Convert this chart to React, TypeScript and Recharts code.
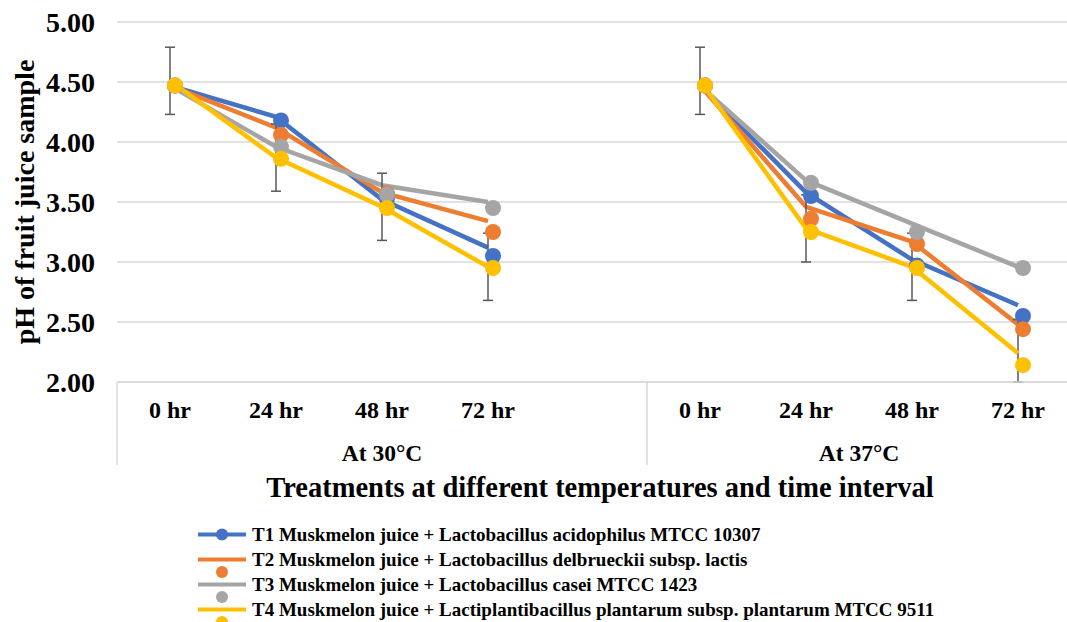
import React from "react";
import { CartesianGrid, ErrorBar, Label, Line, LineChart, XAxis, YAxis } from "recharts";

// slot 4 is the empty gap that closes the 30°C group
const timeLabels = ["0 hr", "24 hr", "48 hr", "72 hr", "", "0 hr", "24 hr", "48 hr", "72 hr"];
const groups = [
  { label: "At 30°C", start: 0, count: 5 },
  { label: "At 37°C", start: 5, count: 4 },
];

// line traces
const t1Line = [4.47, 4.21, 3.52, 3.12, null, 4.47, 3.58, 3.02, 2.64];
const t2Line = [4.47, 4.12, 3.58, 3.34, null, 4.47, 3.46, 3.17, 2.48];
const t3Line = [4.47, 3.96, 3.64, 3.5, null, 4.47, 3.68, 3.32, 2.96];
const t4Line = [4.51, 3.87, 3.46, 2.96, null, 4.51, 3.28, 2.96, 2.24];
// marker values
const t1Dot = [4.47, 4.18, 3.53, 3.05, null, 4.47, 3.55, 2.97, 2.55];
const t2Dot = [4.47, 4.06, 3.57, 3.25, null, 4.47, 3.36, 3.15, 2.44];
const t3Dot = [4.47, 3.96, 3.56, 3.45, null, 4.47, 3.66, 3.25, 2.95];
const t4Dot = [4.47, 3.86, 3.45, 2.95, null, 4.47, 3.25, 2.95, 2.14];
// [below, above]; the last bar stops at the 2.00 axis
const t4Err = [
  [0.28, 0.28], [0.28, 0.28], [0.28, 0.28], [0.28, 0.28], null,
  [0.28, 0.28], [0.28, 0.28], [0.28, 0.28], [0.24, 0.28],
];

const yTicks = [2, 2.5, 3, 3.5, 4, 4.5, 5];

const seriesNames = [
  "T1 Muskmelon juice + Lactobacillus acidophilus MTCC 10307",
  "T2 Muskmelon juice + Lactobacillus delbrueckii subsp. lactis",
  "T3 Muskmelon juice + Lactobacillus casei MTCC 1423",
  "T4 Muskmelon juice + Lactiplantibacillus plantarum subsp. plantarum MTCC 9511",
];
const colors = ["#4472C4", "#ED7D31", "#A5A5A5", "#FFC000"];

const data = timeLabels.map((time, i) => ({
  key: `s${i}`,
  time,
  t1: t1Line[i],
  t2: t2Line[i],
  t3: t3Line[i],
  t4: t4Line[i],
  d1: t1Dot[i],
  d2: t2Dot[i],
  d3: t3Dot[i],
  d4: t4Dot[i],
  err: t4Err[i],
}));

const font = "'Liberation Serif', 'Times New Roman', serif";
const W = 1075;
const H = 622;
const plotLeft = 117;
const plotRight = W - 4;
const plotTop = 22;
const plotBottom = 382;
const band = (plotRight - plotLeft) / timeLabels.length;
const gridColor = "#d9d9d9";

function TimeTick(props: any) {
  const { x, y, index } = props;
  const group = groups.find((g) => g.start === index);
  return (
    <g>
      <text x={x} y={y + 36} textAnchor="middle" fontFamily={font} fontWeight="bold" fontSize={24} fill="#000">
        {timeLabels[index]}
      </text>
      {group && (
        <>
          <line x1={x - band / 2} x2={x - band / 2} y1={y} y2={y + 83} stroke={gridColor} strokeWidth={1.5} />
          <text
            x={x - band / 2 + (group.count * band) / 2}
            y={y + 79}
            textAnchor="middle"
            fontFamily={font}
            fontWeight="bold"
            fontSize={23.5}
            fill="#000"
          >
            {group.label}
          </text>
        </>
      )}
    </g>
  );
}

function markerDot(color: string) {
  return (p: any) => {
    if (p.cy == null || p.value == null) return <g key={p.key ?? p.index} />;
    return <circle key={p.key ?? p.index} cx={p.cx + 5} cy={p.cy} r={8} fill={color} />;
  };
}

function LegendRow({ i }: { i: number }) {
  const c = colors[i];
  const onLine = i === 0;
  return (
    <div style={{ display: "flex", alignItems: "center", height: 25 }}>
      <svg width={54} height={25} style={{ overflow: "visible", flex: "none" }}>
        <line x1={0} x2={48} y1={12.5} y2={12.5} stroke={c} strokeWidth={4} />
        <circle cx={24} cy={onLine ? 12.5 : 25} r={6} fill={c} />
      </svg>
      <span style={{ fontFamily: font, fontWeight: "bold", fontSize: 19, lineHeight: "25px", whiteSpace: "nowrap" }}>
        {seriesNames[i]}
      </span>
    </div>
  );
}

export default function App() {
  const midY = (plotTop + plotBottom) / 2;
  return (
    <div style={{ position: "relative", width: 1067, height: H, overflow: "hidden", background: "#fff" }}>
      <style>{"body{margin:0}"}</style>
      <LineChart width={W} height={H} data={data} margin={{ top: plotTop, right: W - plotRight, bottom: 150, left: 0 }}>
        <CartesianGrid vertical={false} stroke={gridColor} strokeWidth={1.5} />
        <XAxis
          dataKey="key"
          interval={0}
          height={90}
          padding={{ left: band / 2, right: band / 2 }}
          tickSize={0}
          tickMargin={0}
          tickLine={false}
          axisLine={{ stroke: gridColor, strokeWidth: 1.5 }}
          tick={<TimeTick />}
        />
        <YAxis
          width={plotLeft}
          domain={[2, 5]}
          ticks={yTicks}
          allowDataOverflow
          axisLine={false}
          tickLine={false}
          tickSize={0}
          tickMargin={22}
          tickFormatter={(v: number) => v.toFixed(2)}
          tick={{ fill: "#000", fontSize: 28, fontWeight: "bold", fontFamily: font }}
        >
          <Label
            content={() => (
              <text
                x={24}
                y={midY}
                transform={`rotate(-90, 24, ${midY})`}
                textAnchor="middle"
                dominantBaseline="central"
                fontFamily={font}
                fontWeight="bold"
                fontSize={28}
                fill="#000"
              >
                pH of fruit juice sample
              </text>
            )}
          />
        </YAxis>
        <Line dataKey="t1" stroke={colors[0]} strokeWidth={4.5} dot={false} activeDot={false} isAnimationActive={false} />
        <Line dataKey="t2" stroke={colors[1]} strokeWidth={4.5} dot={false} activeDot={false} isAnimationActive={false} />
        <Line dataKey="t3" stroke={colors[2]} strokeWidth={4.5} dot={false} activeDot={false} isAnimationActive={false} />
        <Line dataKey="t4" stroke={colors[3]} strokeWidth={4.5} dot={false} activeDot={false} isAnimationActive={false}>
          <ErrorBar dataKey="err" direction="y" width={5} stroke="#595959" strokeWidth={1.5} isAnimationActive={false} />
        </Line>
        <Line dataKey="d1" stroke="none" dot={markerDot(colors[0])} activeDot={false} isAnimationActive={false} />
        <Line dataKey="d2" stroke="none" dot={markerDot(colors[1])} activeDot={false} isAnimationActive={false} />
        <Line dataKey="d3" stroke="none" dot={markerDot(colors[2])} activeDot={false} isAnimationActive={false} />
        <Line dataKey="d4" stroke="none" dot={markerDot(colors[3])} activeDot={false} isAnimationActive={false} />
      </LineChart>
      <div
        style={{
          position: "absolute",
          left: 123,
          width: plotRight - plotLeft,
          top: 470,
          textAlign: "center",
          fontFamily: font,
          fontWeight: "bold",
          fontSize: 28.5,
          lineHeight: "36px",
        }}
      >
        Treatments at different temperatures and time interval
      </div>
      <div style={{ position: "absolute", left: 198, top: 522 }}>
        {seriesNames.map((_, i) => (
          <LegendRow key={i} i={i} />
        ))}
      </div>
    </div>
  );
}
